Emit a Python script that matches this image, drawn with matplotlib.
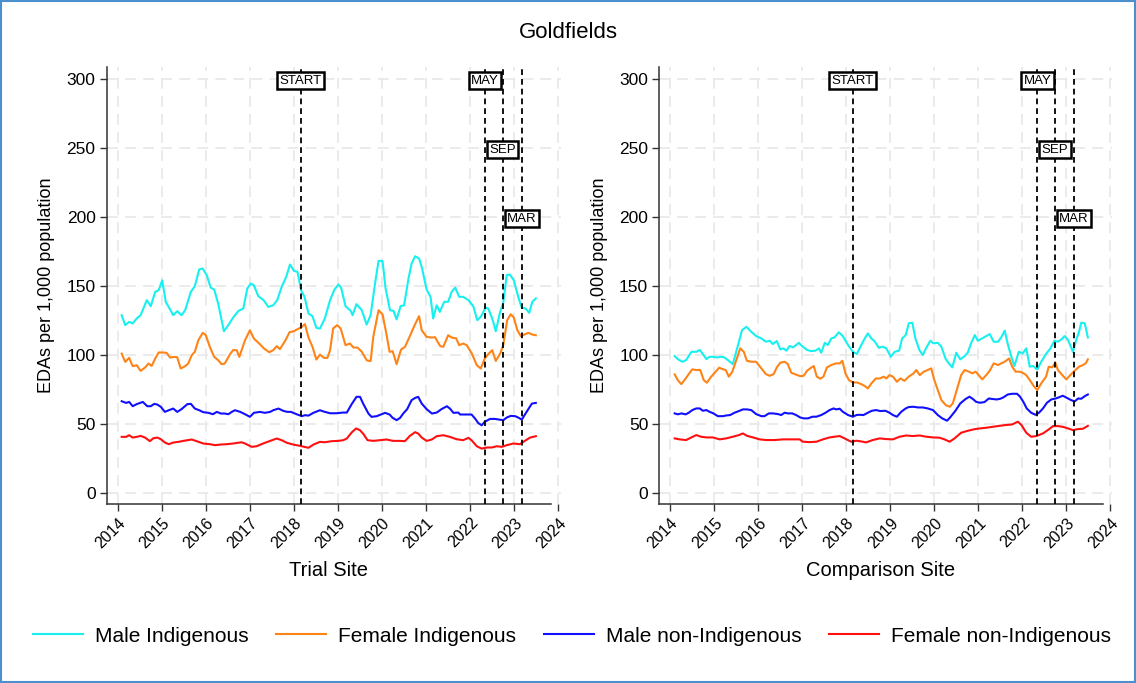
import matplotlib
matplotlib.use("Agg")
import matplotlib.pyplot as plt
from matplotlib.patches import Rectangle

plt.rcParams["font.family"] = ["Liberation Sans", "DejaVu Sans"]

# ---- data: EDAs per 1,000 population, decimal year vs rate ----
series_names = ["Male Indigenous", "Female Indigenous",
                "Male non-Indigenous", "Female non-Indigenous"]
series_colors = ["#18f0f0", "#ff8418", "#1010ff", "#ff1010"]

# Trial site
trial_mi_t = [2014.09, 2014.17, 2014.26, 2014.34, 2014.43, 2014.52, 2014.66, 2014.75, 2014.85, 2014.93,
              2015.01, 2015.09, 2015.19, 2015.26, 2015.35, 2015.45, 2015.53, 2015.66, 2015.75, 2015.85,
              2015.93, 2016.02, 2016.11, 2016.19, 2016.28, 2016.41, 2016.51, 2016.62, 2016.74, 2016.85,
              2016.94, 2017.02, 2017.09, 2017.19, 2017.31, 2017.42, 2017.53, 2017.62, 2017.72, 2017.82,
              2017.91, 2018.00, 2018.08, 2018.16, 2018.24, 2018.33, 2018.42, 2018.51, 2018.59, 2018.70,
              2018.82, 2018.92, 2019.01, 2019.07, 2019.17, 2019.29, 2019.33, 2019.42, 2019.54, 2019.65,
              2019.74, 2019.84, 2019.92, 2020.01, 2020.08, 2020.18, 2020.26, 2020.33, 2020.42, 2020.50,
              2020.60, 2020.67, 2020.75, 2020.84, 2020.90, 2021.01, 2021.10, 2021.16, 2021.24, 2021.31,
              2021.41, 2021.50, 2021.58, 2021.66, 2021.75, 2021.84, 2021.96, 2022.07, 2022.16, 2022.24,
              2022.35, 2022.41, 2022.50, 2022.58, 2022.68, 2022.75, 2022.83, 2022.90, 2022.99, 2023.09,
              2023.17, 2023.26, 2023.34, 2023.41, 2023.49]
trial_mi_v = [129.0, 121.8, 124.2, 123.0, 126.6, 129.0, 139.9, 135.5, 145.9, 147.1,
              154.3, 138.7, 133.1, 129.0, 131.9, 129.0, 132.6, 145.9, 150.0, 162.1,
              162.8, 158.0, 149.0, 147.6, 137.4, 117.4, 121.8, 127.3, 132.1, 133.8,
              148.3, 151.9, 150.7, 142.8, 139.9, 135.0, 136.2, 139.9, 149.5, 156.3,
              165.7, 161.1, 160.4, 147.1, 142.3, 130.2, 128.3, 119.8, 119.3, 126.6,
              139.9, 147.6, 151.2, 149.0, 135.5, 132.1, 129.0, 137.0, 132.6, 122.2,
              129.0, 151.9, 168.3, 168.3, 148.3, 132.6, 132.1, 125.9, 135.5, 136.2,
              155.6, 166.4, 171.7, 170.0, 164.0, 147.6, 142.3, 126.6, 136.2, 131.4,
              138.7, 138.7, 145.9, 149.0, 142.3, 142.3, 139.9, 135.5, 125.4, 127.8,
              134.5, 133.8, 126.6, 117.4, 131.4, 137.9, 158.0, 158.4, 154.3, 142.3,
              134.5, 133.8, 130.7, 138.7, 141.1]

trial_fi_t = [2014.09, 2014.17, 2014.26, 2014.34, 2014.43, 2014.52, 2014.62, 2014.70, 2014.77, 2014.85,
              2014.93, 2015.04, 2015.11, 2015.19, 2015.28, 2015.35, 2015.43, 2015.53, 2015.60, 2015.68,
              2015.75, 2015.83, 2015.93, 2016.00, 2016.09, 2016.19, 2016.28, 2016.36, 2016.43, 2016.55,
              2016.62, 2016.70, 2016.76, 2016.89, 2017.00, 2017.09, 2017.21, 2017.32, 2017.44, 2017.53,
              2017.61, 2017.68, 2017.80, 2017.90, 2018.00, 2018.08, 2018.16, 2018.25, 2018.33, 2018.42,
              2018.51, 2018.59, 2018.68, 2018.76, 2018.82, 2018.89, 2018.98, 2019.06, 2019.17, 2019.27,
              2019.35, 2019.44, 2019.54, 2019.65, 2019.74, 2019.80, 2019.92, 2020.01, 2020.09, 2020.17,
              2020.24, 2020.33, 2020.43, 2020.52, 2020.63, 2020.75, 2020.84, 2020.90, 2021.01, 2021.13,
              2021.20, 2021.32, 2021.39, 2021.50, 2021.58, 2021.68, 2021.75, 2021.84, 2021.92, 2022.03,
              2022.15, 2022.24, 2022.33, 2022.41, 2022.50, 2022.58, 2022.68, 2022.75, 2022.84, 2022.92,
              2022.99, 2023.07, 2023.15, 2023.23, 2023.32, 2023.41, 2023.49]
trial_fi_v = [101.2, 95.2, 98.1, 92.1, 92.8, 88.7, 91.1, 94.0, 92.3, 97.6,
              102.0, 102.0, 101.7, 98.3, 98.8, 98.6, 90.4, 92.1, 94.0, 100.0,
              102.5, 110.9, 116.2, 114.5, 106.1, 98.8, 96.4, 93.5, 94.0, 100.8,
              103.7, 103.7, 98.8, 110.9, 118.1, 112.1, 108.5, 104.9, 102.2, 103.7,
              106.6, 104.4, 110.4, 116.7, 117.4, 118.9, 120.1, 122.5, 112.8, 106.1,
              96.9, 100.5, 98.1, 98.1, 103.7, 119.4, 121.8, 119.4, 107.3, 108.5,
              105.6, 105.6, 102.5, 96.4, 95.7, 113.3, 132.6, 129.7, 116.9, 102.5,
              102.9, 93.5, 104.1, 106.1, 113.8, 122.5, 128.3, 118.1, 113.3, 112.8,
              113.1, 106.6, 106.1, 114.5, 112.8, 112.3, 107.3, 108.5, 107.3, 101.7,
              92.8, 90.4, 97.6, 100.8, 103.7, 95.9, 101.2, 107.3, 125.4, 129.7,
              127.3, 118.1, 113.8, 115.0, 116.2, 115.0, 114.5]

trial_mn_t = [2014.09, 2014.19, 2014.26, 2014.34, 2014.43, 2014.57, 2014.67, 2014.75, 2014.83, 2014.90,
              2014.98, 2015.07, 2015.16, 2015.26, 2015.35, 2015.45, 2015.58, 2015.66, 2015.75, 2015.85,
              2015.94, 2016.06, 2016.16, 2016.25, 2016.34, 2016.43, 2016.51, 2016.59, 2016.66, 2016.78,
              2016.89, 2017.00, 2017.09, 2017.23, 2017.34, 2017.46, 2017.53, 2017.65, 2017.76, 2017.85,
              2017.93, 2018.06, 2018.18, 2018.25, 2018.33, 2018.44, 2018.59, 2018.68, 2018.82, 2018.97,
              2019.11, 2019.20, 2019.31, 2019.42, 2019.50, 2019.57, 2019.69, 2019.76, 2019.88, 2019.99,
              2020.07, 2020.17, 2020.24, 2020.33, 2020.41, 2020.48, 2020.57, 2020.67, 2020.75, 2020.82,
              2020.90, 2021.01, 2021.13, 2021.24, 2021.35, 2021.47, 2021.54, 2021.62, 2021.73, 2021.77,
              2021.84, 2021.92, 2022.03, 2022.11, 2022.18, 2022.26, 2022.33, 2022.45, 2022.56, 2022.66,
              2022.75, 2022.83, 2022.92, 2023.02, 2023.09, 2023.17, 2023.28, 2023.40, 2023.49]
trial_mn_v = [66.7, 65.5, 66.2, 63.1, 64.6, 66.2, 63.1, 63.1, 64.8, 64.3,
              62.6, 59.0, 60.2, 61.4, 59.0, 61.0, 64.6, 64.8, 61.4, 60.2,
              58.8, 58.3, 57.3, 59.0, 57.8, 57.8, 57.3, 59.0, 60.2, 59.0,
              57.3, 55.4, 58.3, 59.0, 58.3, 59.0, 60.2, 61.4, 59.7, 59.0,
              59.0, 57.3, 55.9, 56.6, 56.3, 58.3, 60.2, 59.2, 58.0, 58.0,
              58.5, 58.5, 64.6, 69.9, 69.9, 65.0, 57.8, 55.4, 55.9, 57.3,
              58.3, 57.1, 54.7, 53.0, 54.7, 57.8, 61.0, 67.5, 69.1, 69.9,
              65.0, 61.0, 57.8, 58.5, 61.0, 63.1, 61.4, 58.3, 58.5, 57.1,
              57.1, 57.1, 57.1, 54.2, 51.0, 49.3, 51.8, 53.9, 53.9, 53.4,
              53.0, 54.9, 56.1, 55.9, 54.9, 53.4, 59.0, 65.0, 65.5]

trial_fn_t = [2014.09, 2014.19, 2014.26, 2014.34, 2014.43, 2014.52, 2014.62, 2014.73, 2014.81, 2014.90,
              2014.98, 2015.07, 2015.16, 2015.26, 2015.38, 2015.49, 2015.68, 2015.79, 2015.94, 2016.09,
              2016.21, 2016.32, 2016.47, 2016.62, 2016.81, 2016.89, 2017.04, 2017.15, 2017.30, 2017.46,
              2017.61, 2017.72, 2017.84, 2017.99, 2018.14, 2018.23, 2018.33, 2018.44, 2018.59, 2018.70,
              2018.86, 2019.01, 2019.12, 2019.20, 2019.31, 2019.41, 2019.50, 2019.58, 2019.67, 2019.80,
              2019.95, 2020.10, 2020.25, 2020.40, 2020.52, 2020.63, 2020.75, 2020.82, 2020.90, 2021.01,
              2021.13, 2021.24, 2021.39, 2021.54, 2021.69, 2021.84, 2021.96, 2022.03, 2022.15, 2022.26,
              2022.38, 2022.49, 2022.60, 2022.72, 2022.83, 2022.98, 2023.13, 2023.24, 2023.36, 2023.49]
trial_fn_v = [40.9, 40.9, 42.1, 40.4, 40.9, 41.6, 40.4, 37.8, 39.9, 40.4,
              39.2, 36.8, 35.6, 36.8, 37.3, 38.0, 39.0, 37.8, 36.1, 35.6,
              34.9, 35.3, 35.6, 36.1, 37.0, 36.1, 33.7, 34.1, 36.1, 38.0,
              39.7, 38.5, 36.6, 35.3, 34.4, 33.7, 33.0, 35.3, 37.3, 37.0,
              37.8, 38.0, 38.5, 39.7, 44.1, 47.0, 45.7, 42.8, 38.5, 38.0,
              38.5, 39.0, 38.0, 38.0, 37.8, 41.6, 44.3, 43.3, 40.4, 38.0,
              39.0, 41.4, 42.1, 40.9, 39.2, 38.5, 40.2, 38.5, 34.1, 32.4,
              33.2, 33.2, 34.1, 33.7, 34.9, 36.1, 35.6, 38.0, 40.4, 41.4]

# Comparison site
comp_mi_t = [2014.10, 2014.17, 2014.27, 2014.36, 2014.48, 2014.59, 2014.67, 2014.74, 2014.82, 2014.89,
             2014.98, 2015.06, 2015.16, 2015.23, 2015.31, 2015.42, 2015.54, 2015.63, 2015.73, 2015.84,
             2015.95, 2016.07, 2016.17, 2016.26, 2016.33, 2016.42, 2016.50, 2016.57, 2016.64, 2016.71,
             2016.79, 2016.86, 2016.92, 2017.01, 2017.11, 2017.20, 2017.30, 2017.38, 2017.43, 2017.51,
             2017.58, 2017.66, 2017.73, 2017.83, 2017.92, 2018.04, 2018.15, 2018.24, 2018.34, 2018.42,
             2018.49, 2018.57, 2018.64, 2018.74, 2018.83, 2018.91, 2019.01, 2019.10, 2019.20, 2019.27,
             2019.35, 2019.42, 2019.50, 2019.57, 2019.66, 2019.74, 2019.81, 2019.91, 2019.98, 2020.08,
             2020.16, 2020.26, 2020.33, 2020.41, 2020.50, 2020.59, 2020.69, 2020.76, 2020.84, 2020.92,
             2020.99, 2021.09, 2021.18, 2021.26, 2021.35, 2021.45, 2021.52, 2021.60, 2021.67, 2021.75,
             2021.82, 2021.92, 2022.01, 2022.09, 2022.17, 2022.24, 2022.34, 2022.43, 2022.54, 2022.64,
             2022.73, 2022.81, 2022.89, 2022.96, 2023.04, 2023.15, 2023.23, 2023.29, 2023.34, 2023.42,
             2023.49]
comp_mi_v = [99.4, 97.2, 95.3, 96.5, 102.5, 102.5, 103.8, 100.9, 97.2, 98.9,
             98.9, 98.4, 98.9, 98.4, 96.5, 93.6, 107.4, 118.2, 120.6, 117.0,
             113.9, 112.2, 109.8, 110.5, 108.1, 110.3, 104.2, 105.0, 103.3, 106.7,
             105.7, 107.4, 109.0, 106.2, 103.8, 103.0, 103.3, 105.0, 101.8, 109.0,
             107.4, 112.2, 112.9, 116.6, 113.9, 107.4, 102.5, 100.9, 107.4, 112.2,
             115.8, 112.2, 110.3, 105.4, 106.2, 105.0, 98.9, 102.5, 103.3, 112.2,
             114.6, 123.1, 123.6, 112.2, 103.8, 100.1, 105.0, 110.5, 108.6, 109.0,
             106.2, 97.2, 94.1, 91.2, 101.8, 97.0, 99.4, 101.8, 109.0, 114.6,
             110.5, 112.2, 113.9, 115.3, 109.8, 109.8, 112.9, 117.8, 108.1, 98.9,
             92.2, 102.5, 101.3, 105.0, 91.7, 92.2, 89.7, 95.3, 100.9, 105.0,
             110.5, 109.8, 111.5, 113.9, 111.0, 102.5, 111.5, 117.0, 123.6, 123.1,
             112.9]

comp_fi_t = [2014.10, 2014.17, 2014.25, 2014.35, 2014.44, 2014.50, 2014.59, 2014.68, 2014.76, 2014.83,
             2014.93, 2015.01, 2015.11, 2015.20, 2015.26, 2015.33, 2015.41, 2015.50, 2015.59, 2015.67,
             2015.74, 2015.84, 2015.95, 2016.07, 2016.17, 2016.26, 2016.35, 2016.42, 2016.50, 2016.60,
             2016.67, 2016.75, 2016.85, 2016.95, 2017.03, 2017.11, 2017.18, 2017.26, 2017.33, 2017.41,
             2017.48, 2017.56, 2017.66, 2017.76, 2017.85, 2017.91, 2017.98, 2018.06, 2018.15, 2018.24,
             2018.34, 2018.42, 2018.49, 2018.57, 2018.67, 2018.76, 2018.85, 2018.91, 2018.98, 2019.06,
             2019.15, 2019.23, 2019.32, 2019.42, 2019.53, 2019.59, 2019.67, 2019.76, 2019.85, 2019.93,
             2020.00, 2020.08, 2020.16, 2020.26, 2020.35, 2020.42, 2020.51, 2020.61, 2020.69, 2020.79,
             2020.86, 2020.94, 2021.01, 2021.09, 2021.18, 2021.26, 2021.35, 2021.45, 2021.52, 2021.60,
             2021.70, 2021.77, 2021.85, 2021.94, 2022.01, 2022.09, 2022.17, 2022.26, 2022.34, 2022.43,
             2022.54, 2022.60, 2022.68, 2022.75, 2022.81, 2022.91, 2023.00, 2023.09, 2023.19, 2023.29,
             2023.38, 2023.44, 2023.49]
comp_fi_v = [86.1, 82.0, 79.1, 83.2, 87.3, 89.8, 89.3, 89.3, 82.0, 80.1,
             84.5, 87.3, 91.0, 89.8, 89.3, 84.5, 88.1, 96.5, 105.0, 102.5,
             96.0, 95.3, 95.3, 90.5, 86.4, 85.1, 86.4, 91.2, 94.6, 95.3,
             93.6, 87.3, 86.1, 84.9, 85.1, 88.8, 90.5, 92.2, 84.5, 83.0,
             84.5, 91.2, 92.9, 94.1, 94.1, 96.0, 86.9, 82.0, 80.3, 80.3,
             79.1, 77.7, 76.0, 79.6, 83.2, 83.2, 84.5, 83.2, 85.6, 84.5,
             80.8, 83.2, 81.5, 84.5, 86.9, 89.3, 85.6, 88.1, 89.3, 90.5,
             82.0, 74.8, 67.6, 63.9, 62.7, 65.1, 74.8, 85.6, 89.3, 88.1,
             86.9, 88.1, 85.6, 82.5, 85.6, 88.8, 94.1, 92.9, 94.1, 95.3,
             97.7, 91.7, 88.1, 88.1, 87.3, 85.6, 82.0, 77.7, 74.8, 79.6,
             84.5, 91.7, 91.2, 94.6, 89.3, 85.6, 82.5, 85.6, 88.8, 91.7,
             92.9, 94.1, 97.0]

comp_mn_t = [2014.10, 2014.17, 2014.25, 2014.35, 2014.42, 2014.50, 2014.59, 2014.67, 2014.74, 2014.82,
             2014.89, 2014.98, 2015.08, 2015.20, 2015.27, 2015.36, 2015.46, 2015.56, 2015.65, 2015.74,
             2015.84, 2015.95, 2016.07, 2016.14, 2016.24, 2016.33, 2016.45, 2016.52, 2016.60, 2016.67,
             2016.77, 2016.86, 2016.95, 2017.03, 2017.13, 2017.23, 2017.32, 2017.43, 2017.53, 2017.62,
             2017.71, 2017.77, 2017.85, 2017.92, 2018.04, 2018.15, 2018.23, 2018.30, 2018.39, 2018.49,
             2018.58, 2018.68, 2018.77, 2018.89, 2018.98, 2019.06, 2019.15, 2019.25, 2019.35, 2019.42,
             2019.53, 2019.63, 2019.74, 2019.85, 2019.97, 2020.08, 2020.18, 2020.29, 2020.36, 2020.48,
             2020.59, 2020.71, 2020.80, 2020.87, 2020.95, 2021.04, 2021.14, 2021.24, 2021.33, 2021.42,
             2021.50, 2021.57, 2021.67, 2021.77, 2021.88, 2021.95, 2022.03, 2022.10, 2022.20, 2022.30,
             2022.38, 2022.47, 2022.56, 2022.66, 2022.76, 2022.83, 2022.92, 2023.01, 2023.11, 2023.19,
             2023.27, 2023.34, 2023.42, 2023.49]
comp_mn_v = [57.9, 57.2, 57.9, 57.2, 58.4, 60.3, 61.5, 61.5, 59.8, 60.3,
             59.1, 57.9, 55.9, 55.9, 56.4, 56.7, 58.4, 59.6, 60.8, 60.8,
             60.3, 57.4, 55.9, 55.9, 57.9, 57.9, 57.4, 56.7, 58.4, 57.9,
             57.9, 56.7, 55.0, 54.3, 54.3, 55.5, 55.5, 56.7, 58.4, 60.3,
             61.5, 60.8, 61.3, 59.1, 56.7, 55.5, 56.7, 56.9, 56.7, 58.4,
             59.8, 60.3, 59.6, 59.8, 58.4, 56.7, 55.5, 59.1, 61.5, 62.5,
             62.7, 62.2, 62.2, 61.5, 60.3, 56.7, 54.3, 52.6, 55.0, 59.8,
             65.1, 68.3, 70.0, 68.5, 66.3, 65.6, 66.1, 68.7, 68.3, 68.0,
             68.5, 69.5, 71.6, 72.1, 72.1, 70.0, 65.9, 61.5, 58.4, 56.9,
             58.4, 61.5, 65.6, 68.0, 68.7, 69.5, 70.7, 69.2, 67.5, 66.6,
             68.7, 68.5, 70.4, 71.6]

comp_fn_t = [2014.10, 2014.21, 2014.36, 2014.48, 2014.59, 2014.70, 2014.82, 2014.97, 2015.12, 2015.27,
             2015.42, 2015.56, 2015.65, 2015.74, 2015.88, 2016.03, 2016.18, 2016.37, 2016.56, 2016.79,
             2016.94, 2017.01, 2017.17, 2017.32, 2017.47, 2017.62, 2017.73, 2017.85, 2017.96, 2018.11,
             2018.23, 2018.34, 2018.45, 2018.60, 2018.76, 2018.91, 2019.06, 2019.21, 2019.36, 2019.51,
             2019.67, 2019.82, 2019.97, 2020.12, 2020.23, 2020.35, 2020.46, 2020.61, 2020.76, 2020.92,
             2021.03, 2021.18, 2021.33, 2021.48, 2021.63, 2021.77, 2021.90, 2021.98, 2022.09, 2022.20,
             2022.32, 2022.47, 2022.58, 2022.70, 2022.81, 2022.92, 2023.04, 2023.15, 2023.26, 2023.38,
             2023.49]
comp_fn_v = [39.8, 39.1, 38.6, 40.5, 42.2, 41.0, 40.5, 40.5, 39.1, 39.8,
             41.0, 42.2, 43.4, 41.7, 40.5, 39.1, 38.6, 38.6, 39.1, 39.1,
             39.1, 37.4, 37.1, 37.4, 39.1, 40.5, 41.0, 41.5, 39.8, 37.4,
             38.1, 37.6, 36.9, 38.6, 39.8, 39.3, 39.1, 41.0, 41.9, 41.5,
             41.9, 41.0, 40.5, 40.3, 39.1, 37.4, 39.8, 43.9, 45.3, 46.5,
             47.0, 47.5, 48.2, 48.9, 49.5, 49.9, 51.9, 49.5, 43.9, 41.0,
             41.5, 43.4, 45.8, 48.7, 48.7, 48.2, 47.0, 45.8, 46.5, 46.8,
             48.9]

panels = [
    ("Trial Site", [(trial_mi_t, trial_mi_v), (trial_fi_t, trial_fi_v),
                    (trial_mn_t, trial_mn_v), (trial_fn_t, trial_fn_v)]),
    ("Comparison Site", [(comp_mi_t, comp_mi_v), (comp_fi_t, comp_fi_v),
                         (comp_mn_t, comp_mn_v), (comp_fn_t, comp_fn_v)]),
]

# intervention milestones: (label, date, height of the label box)
events = [("START", 2018.15, 300), ("MAY", 2022.34, 300),
          ("SEP", 2022.74, 250), ("MAR", 2023.17, 200)]

years = list(range(2014, 2025))
yticks = [0, 50, 100, 150, 200, 250, 300]

W, H = 1136, 683
fig = plt.figure(figsize=(W / 100, H / 100), dpi=100)

x0, x1 = 2013.75, 2024.05
axes_px = [(106.7, 44.06), (659.3, 44.0)]  # left edge, px per year
bottom, top = 504, 67

for (xlabel, data), (left_px, ppy) in zip(panels, axes_px):
    ax = fig.add_axes([left_px / W, 1 - bottom / H,
                       (x1 - x0) * ppy / W, (bottom - top) / H])
    for (t, v), c, name in zip(data, series_colors, series_names):
        ax.plot(t, v, color=c, lw=1.5, label=name, zorder=3)

    for lab, d, h in events:
        ax.axvline(d, color="black", lw=1.3, ls=(0, (3.2, 2.2)), zorder=4)
        ax.text(d, h, lab, ha="center", va="center_baseline", fontsize=9.5, zorder=5,
                bbox=dict(boxstyle="square,pad=0.18", fc="white", ec="black", lw=1.8))

    ax.set_xlim(x0, x1)
    ax.set_ylim(-7.7, 308.7)
    ax.set_xticks(years)
    ax.set_xticklabels([str(y) for y in years], rotation=45, ha="right",
                       rotation_mode="anchor", fontsize=11.5)
    ax.set_yticks(yticks)
    ax.set_yticklabels([str(y) for y in yticks], fontsize=12.5)
    ax.tick_params(direction="out", length=5, width=1, color="#333333", pad=3)
    ax.grid(True, color="#e9e9e9", lw=1.3, ls=(0, (6, 4)), zorder=0)
    for s in ["top", "right"]:
        ax.spines[s].set_visible(False)
    ax.spines["bottom"].set_bounds(x0, 2023.83)
    for s in ["left", "bottom"]:
        ax.spines[s].set_color("#333333")
        ax.spines[s].set_linewidth(1.1)

    ax.set_xlabel(xlabel, fontsize=14.5, labelpad=7)
    ax.xaxis.label.set_x((2023.83 - x0) / 2 / (x1 - x0))
    ax.set_ylabel("EDAs per 1,000 population", fontsize=13, labelpad=8)

fig.text(0.5, 1 - 32 / H, "Goldfields", ha="center", va="center", fontsize=16)

handles, labels = ax.get_legend_handles_labels()
fig.legend(handles, labels, loc="center", bbox_to_anchor=(572 / W, 1 - 636 / H),
           ncol=4, frameon=False, fontsize=15, handlelength=2.4,
           handletextpad=0.6, columnspacing=1.3)

fig.patches.append(Rectangle((0.001, 0.001), 0.998, 0.997, transform=fig.transFigure,
                             fill=False, ec="#4a90cc", lw=1.5))

fig.savefig("out.png", dpi=100)
